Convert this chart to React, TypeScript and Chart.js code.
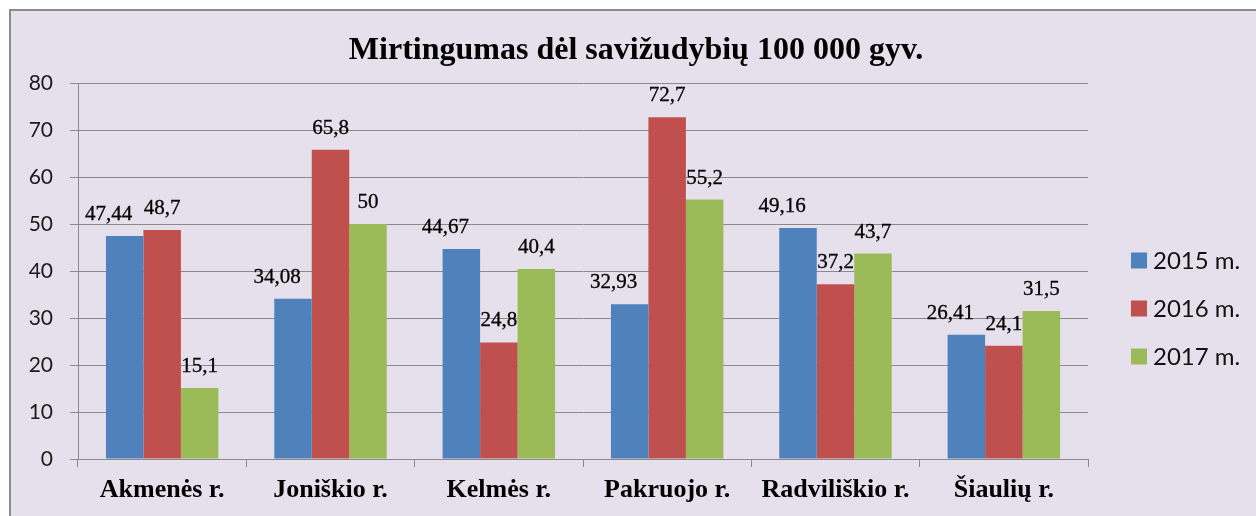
import React, { useEffect, useRef } from "react";
import { Chart, registerables } from "chart.js";

Chart.register(...registerables);

const titleText = "Mirtingumas dėl savižudybių 100 000 gyv.";
const categories = ["Akmenės r.", "Joniškio r.", "Kelmės r.", "Pakruojo r.", "Radviliškio r.", "Šiaulių r."];
const seriesLabels = ["2015 m.", "2016 m.", "2017 m."];
const values2015 = [47.44, 34.08, 44.67, 32.93, 49.16, 26.41];
const values2016 = [48.7, 65.8, 24.8, 72.7, 37.2, 24.1];
const values2017 = [15.1, 50, 40.4, 55.2, 43.7, 31.5];
const yMin = 0;
const yMax = 80;
const yStep = 10;

const seriesColors = ["#4F81BD", "#C0504D", "#9BBB59"];
const GRID = "#8a8a8a";
const SERIF = "'Liberation Serif', 'DejaVu Serif', serif";
const SANS = "Lato, 'Open Sans', sans-serif";

const W = 1256;
const H = 516;

const backgroundPlugin = {
  id: "bgFrame",
  beforeDraw(chart: any) {
    const ctx = chart.ctx;
    ctx.save();
    ctx.fillStyle = "#ffffff";
    ctx.fillRect(0, 0, W, H);
    ctx.fillStyle = "#E6E0EC";
    ctx.fillRect(9, 9, W - 9, H - 9);
    ctx.strokeStyle = "#8c8c8c";
    ctx.lineWidth = 2;
    ctx.beginPath();
    ctx.moveTo(10, H);
    ctx.lineTo(10, 10);
    ctx.lineTo(W, 10);
    ctx.stroke();
    ctx.restore();
  },
};

const titlePlugin = {
  id: "customTitle",
  afterDraw(chart: any) {
    const ctx = chart.ctx;
    ctx.save();
    ctx.font = `bold 32px ${SERIF}`;
    ctx.fillStyle = "#000";
    ctx.textAlign = "center";
    ctx.textBaseline = "alphabetic";
    ctx.fillText(titleText, 636, 59);
    ctx.restore();
  },
};

const labelOffsets = [-16, 0, 0];

const valueLabelPlugin = {
  id: "valueLabels",
  afterDatasetsDraw(chart: any) {
    const ctx = chart.ctx;
    ctx.save();
    ctx.font = `21px ${SERIF}`;
    ctx.fillStyle = "#000";
    ctx.strokeStyle = "#000";
    ctx.lineWidth = 0.3;
    ctx.textAlign = "center";
    ctx.textBaseline = "alphabetic";
    chart.data.datasets.forEach((ds: any, di: number) => {
      const meta = chart.getDatasetMeta(di);
      meta.data.forEach((bar: any, i: number) => {
        const v = ds.data[i];
        const txt = String(v).replace(".", ",");
        ctx.fillText(txt, bar.x + labelOffsets[di], bar.y - 16);
        ctx.strokeText(txt, bar.x + labelOffsets[di], bar.y - 16);
      });
    });
    ctx.restore();
  },
};

const legendPlugin = {
  id: "customLegend",
  afterDraw(chart: any) {
    const ctx = chart.ctx;
    ctx.save();
    ctx.font = `24px ${SANS}`;
    ctx.textAlign = "left";
    ctx.textBaseline = "middle";
    chart.data.datasets.forEach((ds: any, i: number) => {
      const cy = 260.5 + i * 48;
      ctx.fillStyle = ds.backgroundColor;
      ctx.fillRect(1131, cy - 8, 16, 16);
      ctx.fillStyle = "#111";
      ctx.fillText(ds.label, 1153, cy + 1);
    });
    ctx.restore();
  },
};

export default function App() {
  const ref = useRef<HTMLCanvasElement | null>(null);

  useEffect(() => {
    if (!ref.current) return;
    const chart = new Chart(ref.current, {
      type: "bar",
      data: {
        labels: categories,
        datasets: [
          { label: seriesLabels[0], data: values2015, backgroundColor: seriesColors[0] },
          { label: seriesLabels[1], data: values2016, backgroundColor: seriesColors[1] },
          { label: seriesLabels[2], data: values2017, backgroundColor: seriesColors[2] },
        ],
      },
      options: {
        animation: false,
        responsive: false,
        devicePixelRatio: 1,
        layout: { padding: { top: 83, right: 168, left: 0, bottom: 0 } },
        datasets: {
          bar: { categoryPercentage: 0.668, barPercentage: 1 },
        },
        plugins: {
          legend: { display: false },
          title: { display: false },
          tooltip: { enabled: false },
        },
        scales: {
          x: {
            grid: {
              display: true,
              drawOnChartArea: false,
              drawTicks: true,
              tickLength: 8,
              color: GRID,
              offset: true,
            },
            border: { display: true, color: GRID },
            ticks: {
              color: "#000",
              padding: 8,
              font: { family: SERIF, size: 26, weight: "bold" },
              maxRotation: 0,
              autoSkip: false,
            },
            afterFit(scale: any) {
              scale.height = 57;
            },
          },
          y: {
            min: yMin,
            max: yMax,
            grid: { color: GRID, tickLength: 8, drawTicks: true },
            border: { display: true, color: GRID },
            ticks: {
              stepSize: yStep,
              color: "#1a1a1a",
              padding: 17,
              font: { family: SANS, size: 21 },
            },
            afterFit(scale: any) {
              scale.width = 78;
            },
          },
        },
      } as any,
      plugins: [backgroundPlugin, valueLabelPlugin, titlePlugin, legendPlugin],
    });
    return () => chart.destroy();
  }, []);

  return (
    <div style={{ position: "fixed", left: 0, top: 0, width: W, height: H }}>
      <canvas ref={ref} width={W} height={H} style={{ display: "block" }} />
    </div>
  );
}
